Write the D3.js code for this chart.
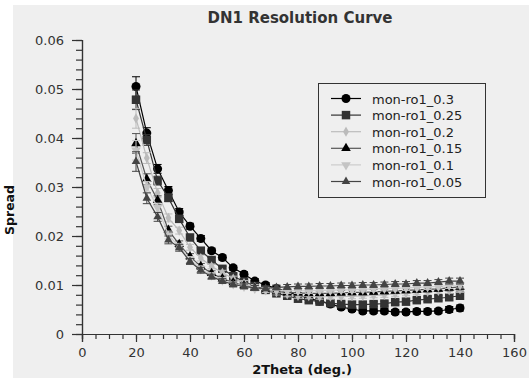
<!DOCTYPE html>
<html>
<head>
<meta charset="utf-8">
<script src="https://cdn.jsdelivr.net/npm/d3@7"></script>
<style>
  body { margin: 0; background: #fff; }
  text { font-family: "DejaVu Sans", sans-serif; }
</style>
</head>
<body>
<div id="chart"></div>
<script>
// 2Theta positions (deg.)
const angles = [20, 24, 28, 32, 36, 40, 44, 48, 52, 56, 60, 64, 68, 72, 76, 80,
                84, 88, 92, 96, 100, 104, 108, 112, 116, 120, 124, 128, 132, 136, 140];

const ro03 = [0.0505, 0.0410, 0.0337, 0.0293, 0.0249, 0.0220, 0.0195, 0.0170, 0.0156, 0.0135, 0.0122,
              0.0108, 0.0100, 0.0093, 0.0086, 0.0079, 0.0073, 0.0067, 0.0061, 0.0055, 0.0051, 0.0047,
              0.0047, 0.0047, 0.0045, 0.0045, 0.0046, 0.0046, 0.0047, 0.0050, 0.0053];
const ro025 = [0.0478, 0.0396, 0.0313, 0.0278, 0.0235, 0.0197, 0.0170, 0.0151, 0.0133, 0.0118, 0.0107,
               0.0098, 0.0090, 0.0083, 0.0078, 0.0072, 0.0069, 0.0066, 0.0063, 0.0061, 0.0060, 0.0060,
               0.0061, 0.0062, 0.0065, 0.0066, 0.0069, 0.0071, 0.0073, 0.0075, 0.0078];
const ro02 = [0.0440, 0.0359, 0.0288, 0.0237, 0.0211, 0.0177, 0.0155, 0.0138, 0.0125, 0.0113, 0.0104,
              0.0096, 0.0090, 0.0085, 0.0081, 0.0078, 0.0077, 0.0076, 0.0076, 0.0076, 0.0077, 0.0078,
              0.0079, 0.0080, 0.0082, 0.0083, 0.0085, 0.0086, 0.0088, 0.0089, 0.0091];
const ro015 = [0.0389, 0.0316, 0.0273, 0.0212, 0.0183, 0.0158, 0.0138, 0.0124, 0.0113, 0.0105, 0.0099,
               0.0094, 0.0090, 0.0087, 0.0085, 0.0084, 0.0083, 0.0083, 0.0083, 0.0084, 0.0085, 0.0085,
               0.0086, 0.0087, 0.0088, 0.0089, 0.0090, 0.0091, 0.0092, 0.0094, 0.0096];
const ro01 = [0.0375, 0.0300, 0.0258, 0.0202, 0.0178, 0.0152, 0.0133, 0.0120, 0.0110, 0.0102, 0.0097,
              0.0093, 0.0090, 0.0089, 0.0088, 0.0088, 0.0088, 0.0089, 0.0089, 0.0090, 0.0090, 0.0091,
              0.0092, 0.0093, 0.0093, 0.0094, 0.0095, 0.0096, 0.0097, 0.0099, 0.0100];
const ro005 = [0.0352, 0.0277, 0.0239, 0.0192, 0.0176, 0.0148, 0.0130, 0.0117, 0.0108, 0.0101, 0.0097,
               0.0094, 0.0093, 0.0095, 0.0096, 0.0097, 0.0097, 0.0098, 0.0098, 0.0099, 0.0099, 0.0100,
               0.0100, 0.0101, 0.0102, 0.0102, 0.0104, 0.0104, 0.0106, 0.0108, 0.0108];
// error bar half-height at each angle
const errs = [0.0020, 0.0011, 0.0009, 0.0008, 0.0007, 0.0006, 0.0006, 0.0005, 0.0005, 0.0005, 0.0005,
              0.0005, 0.0005, 0.0005, 0.0005, 0.0005, 0.0005, 0.0005, 0.0005, 0.0005, 0.0005, 0.0005,
              0.0005, 0.0005, 0.0005, 0.0005, 0.0005, 0.0005, 0.0005, 0.0006, 0.0006];

const names = ["mon-ro1_0.3", "mon-ro1_0.25", "mon-ro1_0.2", "mon-ro1_0.15", "mon-ro1_0.1", "mon-ro1_0.05"];
const xTicks = [0, 20, 40, 60, 80, 100, 120, 140, 160];
const yTicks = [0, 0.01, 0.02, 0.03, 0.04, 0.05, 0.06];

const series = [
  { name: names[0], values: ro03,  line: "#000", fill: "#000", symbol: d3.symbolCircle,   size: 64 },
  { name: names[1], values: ro025, line: "#333", fill: "#333", symbol: d3.symbolSquare,   size: 72 },
  { name: names[2], values: ro02,  line: "#bbb", fill: "#bbb", symbol: d3.symbolDiamond,  size: 30 },
  { name: names[3], values: ro015, line: "#555", fill: "#000", symbol: d3.symbolTriangle, size: 40 },
  { name: names[4], values: ro01,  line: "#ccc", fill: "#c4c4c4", symbol: d3.symbolTriangle, size: 40, down: true },
  { name: names[5], values: ro005, line: "#444", fill: "#444", symbol: d3.symbolTriangle, size: 32 }
];

const width = 529, height = 378;
const margin = { left: 82, right: 15, top: 40, bottom: 44 };

const svg = d3.select("#chart").append("svg")
    .attr("width", width)
    .attr("height", height);

svg.append("rect")
    .attr("x", 13).attr("y", 5)
    .attr("width", width - 13).attr("height", height - 5)
    .attr("fill", "#efefef");

const x = d3.scaleLinear().domain([0, 160]).range([margin.left, width - margin.right]);
const y = d3.scaleLinear().domain([0, 0.06]).range([height - margin.bottom, margin.top]);

// x axis: major + minor ticks
const xAxisG = svg.append("g")
    .attr("transform", `translate(0,${y(0)})`)
    .call(d3.axisBottom(x).tickValues(d3.range(0, 161, 5)).tickSize(5).tickFormat(""));
xAxisG.append("g")
    .call(d3.axisBottom(x).tickValues(xTicks).tickSize(8).tickPadding(6).tickFormat(d3.format("d")));
xAxisG.selectAll(".domain").attr("stroke", "#333").attr("stroke-width", 1.2);
xAxisG.selectAll(".tick line").attr("stroke", "#333").attr("stroke-width", 1.2);
xAxisG.selectAll("text").attr("font-size", 13).attr("fill", "#333");

const yAxisG = svg.append("g")
    .attr("transform", `translate(${x(0)},0)`)
    .call(d3.axisLeft(y).tickValues(d3.range(0, 0.0601, 0.002)).tickSize(6).tickFormat(""));
yAxisG.append("g")
    .call(d3.axisLeft(y).tickValues(yTicks).tickSize(10).tickPadding(8).tickFormat(d => d === 0 ? "0" : d3.format(".2f")(d)));
yAxisG.selectAll(".domain").attr("stroke", "#333").attr("stroke-width", 1.2);
yAxisG.selectAll(".tick line").attr("stroke", "#333").attr("stroke-width", 1.2);
yAxisG.selectAll("text").attr("font-size", 13).attr("fill", "#333");

svg.append("text")
    .attr("x", 300).attr("y", 23)
    .attr("text-anchor", "middle")
    .attr("font-size", 15).attr("font-weight", "bold").attr("fill", "#333")
    .text("DN1 Resolution Curve");

svg.append("text")
    .attr("x", 302).attr("y", 374)
    .attr("text-anchor", "middle")
    .attr("font-size", 13).attr("font-weight", "bold").attr("fill", "#111")
    .text("2Theta (deg.)");

svg.append("text")
    .attr("transform", "translate(14,210) rotate(-90)")
    .attr("text-anchor", "middle")
    .attr("font-size", 12.5).attr("font-weight", "bold").attr("fill", "#111")
    .text("Spread");

const line = d3.line().x((d, i) => x(angles[i])).y(d => y(d));

series.forEach(s => {
  const g = svg.append("g");
  g.append("path")
      .attr("d", line(s.values))
      .attr("fill", "none")
      .attr("stroke", s.line)
      .attr("stroke-width", 1.2);

  // error bars
  s.values.forEach((v, i) => {
    const cx = x(angles[i]), y0 = y(v - errs[i]), y1 = y(v + errs[i]);
    g.append("line").attr("x1", cx).attr("x2", cx).attr("y1", y0).attr("y2", y1)
        .attr("stroke", s.line).attr("stroke-width", 1);
    [y0, y1].forEach(yy => {
      g.append("line").attr("x1", cx - 4).attr("x2", cx + 4).attr("y1", yy).attr("y2", yy)
          .attr("stroke", s.line).attr("stroke-width", 1);
    });
  });

  g.selectAll("path.pt").data(s.values).enter().append("path")
      .attr("class", "pt")
      .attr("d", d3.symbol().type(s.symbol).size(s.size))
      .attr("transform", (d, i) => `translate(${x(angles[i])},${y(d)})${s.down ? " rotate(180)" : ""}`)
      .attr("fill", s.fill);
});

// legend
const legend = svg.append("g").attr("transform", "translate(318,83)");
legend.append("rect")
    .attr("x", 0.5).attr("y", 0.5)
    .attr("width", 167).attr("height", 114)
    .attr("fill", "#efefef")
    .attr("stroke", "#333");

series.forEach((s, i) => {
  const ly = 15.5 + i * 16.6;
  legend.append("line")
      .attr("x1", 13).attr("x2", 43).attr("y1", ly).attr("y2", ly)
      .attr("stroke", s.line).attr("stroke-width", 1.2);
  legend.append("path")
      .attr("d", d3.symbol().type(s.symbol).size(s.size))
      .attr("transform", `translate(28,${ly})${s.down ? " rotate(180)" : ""}`)
      .attr("fill", s.fill);
  legend.append("text")
      .attr("x", 54).attr("y", ly + 5)
      .attr("font-size", 13).attr("fill", "#222")
      .text(s.name);
});
</script>
</body>
</html>
